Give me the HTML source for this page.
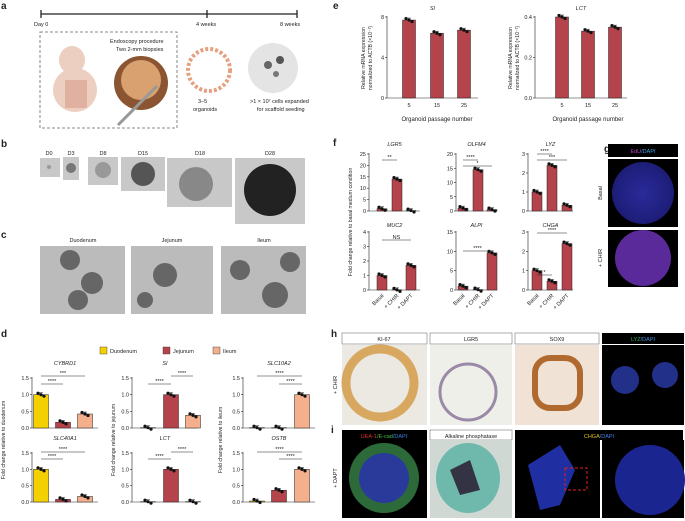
<!DOCTYPE html><html><head><meta charset="utf-8"><style>
body{margin:0;background:#fff}svg{display:block}
text{font-family:"Liberation Sans",sans-serif;fill:#222}
</style></head><body>
<svg id="s" width="685" height="521" viewBox="0 0 685 521" xmlns="http://www.w3.org/2000/svg">
<defs>
<radialGradient id="bl" cx="50%" cy="50%" r="60%"><stop offset="0" stop-color="#2a2a9a"/><stop offset="1" stop-color="#1a1a70"/></radialGradient>
</defs>
<g font-weight="bold" font-size="10">
<text x="1" y="9">a</text><text x="1" y="147">b</text><text x="1" y="238">c</text><text x="1" y="337">d</text>
<text x="333" y="9">e</text><text x="333" y="146">f</text><text x="604" y="152">g</text><text x="331" y="337">h</text><text x="331" y="433">i</text></g>
<!-- a -->
<line x1="41" y1="14" x2="297" y2="14" stroke="#222" stroke-width="1.3"/>
<g stroke="#222" stroke-width="1.3"><line x1="41" y1="10" x2="41" y2="18"/><line x1="207" y1="10" x2="207" y2="18"/><line x1="297" y1="10" x2="297" y2="18"/></g>
<g font-size="5.5"><text x="34" y="26">Day 0</text><text x="196" y="26">4 weeks</text><text x="280" y="26">8 weeks</text>
<text x="110" y="43">Endoscopy procedure</text><text x="116" y="51">Two 2-mm biopsies</text>
<text x="198" y="103">3–5</text><text x="193" y="111">organoids</text>
<text x="250" y="103">&gt;1 × 10⁷ cells expanded</text><text x="257" y="111">for scaffold seeding</text></g>
<rect x="40" y="32" width="137" height="96" fill="none" stroke="#666" stroke-dasharray="3,2" stroke-width=".8"/>
<ellipse cx="72" cy="60" rx="13" ry="14" fill="#eccfc0"/><ellipse cx="75" cy="90" rx="22" ry="22" fill="#eccfc0"/><rect x="65" y="80" width="22" height="28" fill="#d89c8a" opacity=".6"/>
<circle cx="141" cy="83" r="27" fill="#8a5530"/><circle cx="141" cy="80" r="20" fill="#d9a070"/><line x1="118" y1="125" x2="157" y2="86" stroke="#999" stroke-width="3"/>
<circle cx="209" cy="70" r="21" fill="none" stroke="#e6a080" stroke-width="4" stroke-dasharray="3,2"/>
<circle cx="273" cy="68" r="25" fill="#e4e4e4"/><circle cx="268" cy="65" r="4" fill="#666"/><circle cx="280" cy="60" r="4" fill="#555"/><circle cx="276" cy="74" r="3" fill="#777"/>
<!-- b -->
<g font-size="5.5" text-anchor="middle"><text x="49" y="155">D0</text><text x="71" y="155">D3</text><text x="103" y="155">D8</text><text x="143" y="155">D15</text><text x="200" y="155">D18</text><text x="270" y="155">D28</text>
<text x="83" y="242">Duodenum</text><text x="172" y="242">Jejunum</text><text x="264" y="242">Ileum</text></g>
<g fill="#c8c8c8"><rect x="40" y="158" width="20" height="19"/><rect x="63" y="157" width="16" height="23"/><rect x="88" y="157" width="30" height="28"/><rect x="121" y="157" width="44" height="34"/><rect x="167" y="158" width="65" height="49"/><rect x="235" y="158" width="70" height="66"/></g>
<circle cx="49" cy="167" r="2" fill="#999"/><circle cx="71" cy="168" r="5" fill="#777"/><circle cx="103" cy="170" r="8" fill="#999"/><circle cx="143" cy="174" r="12" fill="#555"/><circle cx="196" cy="184" r="17" fill="#888"/><circle cx="270" cy="190" r="26" fill="#222"/>
<g fill="#bbb"><rect x="40" y="246" width="85" height="68"/><rect x="131" y="246" width="82" height="68"/><rect x="221" y="246" width="85" height="68"/></g>
<g fill="#666"><circle cx="70" cy="260" r="10"/><circle cx="92" cy="283" r="11"/><circle cx="78" cy="300" r="10"/><circle cx="165" cy="275" r="12"/><circle cx="145" cy="300" r="8"/><circle cx="240" cy="270" r="10"/><circle cx="290" cy="262" r="10"/><circle cx="275" cy="295" r="13"/></g>
<!-- d legend -->
<g font-size="5.5"><rect x="100" y="347" width="7" height="7" fill="#f5d000" stroke="#333" stroke-width=".4"/><text x="110" y="353">Duodenum</text>
<rect x="163" y="347" width="7" height="7" fill="#b5434b" stroke="#333" stroke-width=".4"/><text x="173" y="353">Jejunum</text>
<rect x="213" y="347" width="7" height="7" fill="#f4b08c" stroke="#333" stroke-width=".4"/><text x="223" y="353">Ileum</text></g>
<g font-size="5.2" fill="#222">
<text transform="translate(5,440) rotate(-90)" text-anchor="middle">Fold change relative to duodenum</text>
<text transform="translate(115,440) rotate(-90)" text-anchor="middle">Fold change relative to jejunum</text>
<text transform="translate(222,440) rotate(-90)" text-anchor="middle">Fold change relative to ileum</text>
<text transform="translate(365,58) rotate(-90)" text-anchor="middle">Relative mRNA expression</text>
<text transform="translate(372,58) rotate(-90)" text-anchor="middle">normalized to ACTB (×10⁻²)</text>
<text transform="translate(512,58) rotate(-90)" text-anchor="middle">Relative mRNA expression</text>
<text transform="translate(519,58) rotate(-90)" text-anchor="middle">normalized to ACTB (×10⁻²)</text>
<text transform="translate(352,222) rotate(-90)" text-anchor="middle">Fold change relative to basal medium condition</text>
<text x="437" y="121" text-anchor="middle" font-size="6">Organoid passage number</text>
<text x="588" y="121" text-anchor="middle" font-size="6">Organoid passage number</text>
</g>
<!-- g -->
<rect x="608" y="144" width="70" height="13" fill="#000"/><text x="643" y="153" font-size="5.5" text-anchor="middle" style="fill:#c040c0">EdU<tspan style="fill:#40a0e0">/DAPI</tspan></text>
<rect x="608" y="159" width="70" height="68" fill="#000"/><circle cx="643" cy="193" r="31" fill="url(#bl)"/>
<rect x="608" y="230" width="70" height="57" fill="#000"/><circle cx="643" cy="258" r="28" fill="#5a2a9a"/>
<text transform="translate(602,193) rotate(-90)" font-size="5.5" text-anchor="middle">Basal</text>
<text transform="translate(602,258) rotate(-90)" font-size="5.5" text-anchor="middle">+ CHIR</text>
<!-- h/i -->
<g font-size="5.5" text-anchor="middle">
<rect x="342" y="333" width="85" height="11" fill="#fff" stroke="#777" stroke-width=".6"/><text x="384" y="341">KI-67</text>
<rect x="430" y="333" width="82" height="11" fill="#fff" stroke="#777" stroke-width=".6"/><text x="471" y="341">LGR5</text>
<rect x="515" y="333" width="84" height="11" fill="#fff" stroke="#777" stroke-width=".6"/><text x="557" y="341">SOX9</text>
<rect x="602" y="333" width="82" height="11" fill="#000"/><text x="643" y="341" style="fill:#30b060">LYZ<tspan style="fill:#4090e0">/DAPI</tspan></text>
<rect x="342" y="430" width="85" height="10" fill="#000"/><text x="384" y="438" style="fill:#e03030">UEA-1<tspan style="fill:#40c040">/E-cad</tspan><tspan style="fill:#4080e0">/DAPI</tspan></text>
<rect x="430" y="430" width="82" height="10" fill="#fff" stroke="#777" stroke-width=".6"/><text x="471" y="438">Alkaline phosphatase</text>
<rect x="515" y="430" width="168" height="10" fill="#000"/><text x="599" y="438" style="fill:#e0c020">CHGA<tspan style="fill:#4080e0">/DAPI</tspan></text>
</g>
<text transform="translate(337,385) rotate(-90)" font-size="5.5" text-anchor="middle">+ CHIR</text>
<text transform="translate(337,478) rotate(-90)" font-size="5.5" text-anchor="middle">+ DAPT</text>
<rect x="342" y="345" width="85" height="80" fill="#ece8e2"/><circle cx="380" cy="383" r="34" fill="none" stroke="#d8a860" stroke-width="9"/>
<rect x="430" y="345" width="82" height="80" fill="#efefe9"/><circle cx="468" cy="392" r="28" fill="none" stroke="#9a8aa8" stroke-width="3"/>
<rect x="515" y="345" width="84" height="80" fill="#f0e2d4"/><rect x="535" y="358" width="45" height="50" rx="15" fill="none" stroke="#b06a30" stroke-width="6"/>
<rect x="602" y="345" width="82" height="80" fill="#000"/><circle cx="625" cy="380" r="14" fill="#23308a"/><circle cx="665" cy="375" r="13" fill="#23308a"/>
<rect x="342" y="440" width="85" height="78" fill="#000"/><circle cx="384" cy="478" r="35" fill="#2c6a3a"/><circle cx="384" cy="478" r="25" fill="#2a3a9a"/>
<rect x="430" y="440" width="82" height="78" fill="#d0d8d4"/><ellipse cx="468" cy="478" rx="32" ry="35" fill="#6fb8ac"/><path d="M450 470 L470 460 L480 490 L460 495Z" fill="#334"/>
<rect x="515" y="440" width="85" height="78" fill="#000"/><path d="M528 465 L560 445 L575 470 L560 505 L540 510Z" fill="#1f2ea0"/>
<rect x="602" y="440" width="82" height="78" fill="#000"/><circle cx="650" cy="480" r="35" fill="#1b2590"/>
<rect x="565" y="468" width="22" height="22" fill="none" stroke="#e02020" stroke-dasharray="3,2"/>
<g id="charts"></g>
</svg>
<script>
var S=document.getElementById('charts'),h='';
function T(x,y,t,o){o=o||{};h+='<text x="'+x+'" y="'+y+'" font-size="'+(o.fs||5.5)+'" text-anchor="'+(o.a||'middle')+'"'+(o.it?' font-style="italic"':'')+(o.tr?' transform="'+o.tr+'"':'')+'>'+t+'</text>';}
function L(a,b,c,d,w){h+='<line x1="'+a+'" y1="'+b+'" x2="'+c+'" y2="'+d+'" stroke="#222" stroke-width="'+(w||.6)+'"/>';}
function chart(x0,x1,yt,yb,max,ticks,xs,vals,cols,bw,title,ty,sig,xl,fx){
 L(x0,yt-1,x0,yb);L(x0,yb,x1,yb);
 ticks.forEach(function(t){var y=yb-(yb-yt)*t/max;L(x0-2,y,x0,y);T(x0-3,y+2,fx?t.toFixed(fx):String(t),{a:'end'});});
 xs.forEach(function(x,i){var v=vals[i],y=yb-(yb-yt)*v/max;
  h+='<rect x="'+(x-bw/2)+'" y="'+y+'" width="'+bw+'" height="'+(yb-y)+'" fill="'+cols[i]+'" stroke="#222" stroke-width=".5"/>';
  L(x-2,y-2,x+2,y-2,.5);L(x,y-2,x,y,.5);
  for(var k=-1;k<=1;k++)h+='<circle cx="'+(x+k*3)+'" cy="'+(y+(k*1.5))+'" r="1.6" fill="#111"/>';});
 T((x0+x1)/2,ty,title,{it:1});
 (sig||[]).forEach(function(s){L(s[0],s[2],s[1],s[2],.5);T((s[0]+s[1])/2,s[2]-1,s[3]);});
 if(xl)xl.forEach(function(t,i){T(xs[i],yb+9,t);});
}
var Y='#f5d000',R='#b5434b',P='#f4b08c',C3=[Y,R,P];
chart(32,98,378,428,1.5,[1.5,1,0.5,0],[41,63,85],[1,0.17,0.42],C3,15,'CYBRD1',365,[[41,63,384,'****'],[41,85,376,'***']],0,1);
chart(132,198,378,428,1.5,[1.5,1,0.5,0],[148,171,193],[0.01,1,0.38],C3,15,'SI',365,[[148,171,384,'****'],[171,193,376,'****']],0,1);
chart(243,315,378,428,1.5,[1.5,1,0.5,0],[257,279,302],[0.01,0.01,1],C3,15,'SLC10A2',365,[[257,302,376,'****'],[279,302,384,'****']],0,1);
chart(32,98,453,502,1.5,[1.5,1,0.5,0],[41,63,85],[1,0.08,0.17],C3,15,'SLC40A1',440,[[41,63,459,'****'],[41,85,452,'****']],0,1);
chart(132,198,453,502,1.5,[1.5,1,0.5,0],[148,171,193],[0.01,1,0.01],C3,15,'LCT',440,[[148,171,459,'****'],[171,193,452,'****']],0,1);
chart(243,315,453,502,1.5,[1.5,1,0.5,0],[257,279,302],[0.03,0.36,1],C3,15,'OSTB',440,[[257,302,452,'****'],[279,302,459,'****']],0,1);
var RR=[R,R,R];
chart(387,478,17,98,8,[8,4,0],[409,437,464],[7.7,6.4,6.7],RR,13,'SI',10,null,['5','15','25']);
chart(535,627,17,98,0.4,[0.4,0.2,0],[562,588,615],[0.4,0.33,0.35],RR,13,'LCT',10,null,['5','15','25'],1);
chart(369,420,154,211,25,[25,20,15,10,5,0],[382,397,411],[1,14,0.2],RR,10,'LGR5',146,[[382,397,160,'**']]);
chart(456,497,154,211,20,[20,15,10,5,0],[463,478,492],[1,14.5,0.5],RR,10,'OLFM4',146,[[463,478,160,'****'],[463,492,166,'*']]);
chart(528,573,154,211,3,[3,2,1,0],[537,552,567],[1,2.4,0.3],RR,10,'LYZ',146,[[537,552,154,'****'],[537,567,160,'***']]);
chart(369,420,232,290,4,[4,3,2,1,0],[382,397,411],[1,0.01,1.7],RR,10,'MUC2',227,[[382,411,240,'NS']]);
chart(456,497,232,290,15,[15,10,5,0],[463,478,492],[1,0.1,9.6],RR,10,'ALPI',227,[[463,492,251,'****']]);
chart(528,573,232,290,3,[3,2,1,0],[537,552,567],[1,0.45,2.4],RR,10,'CHGA',227,[[537,552,275,'*'],[537,567,233,'****']]);
[[382,397,411],[463,478,492],[537,552,567]].forEach(function(xs){['Basal','+ CHIR','+ DAPT'].forEach(function(t,i){T(xs[i]+2,296,t,{a:'end',tr:'rotate(-45 '+(xs[i]+2)+' 296)'});});});
S.innerHTML=h;
</script>
</body></html>
